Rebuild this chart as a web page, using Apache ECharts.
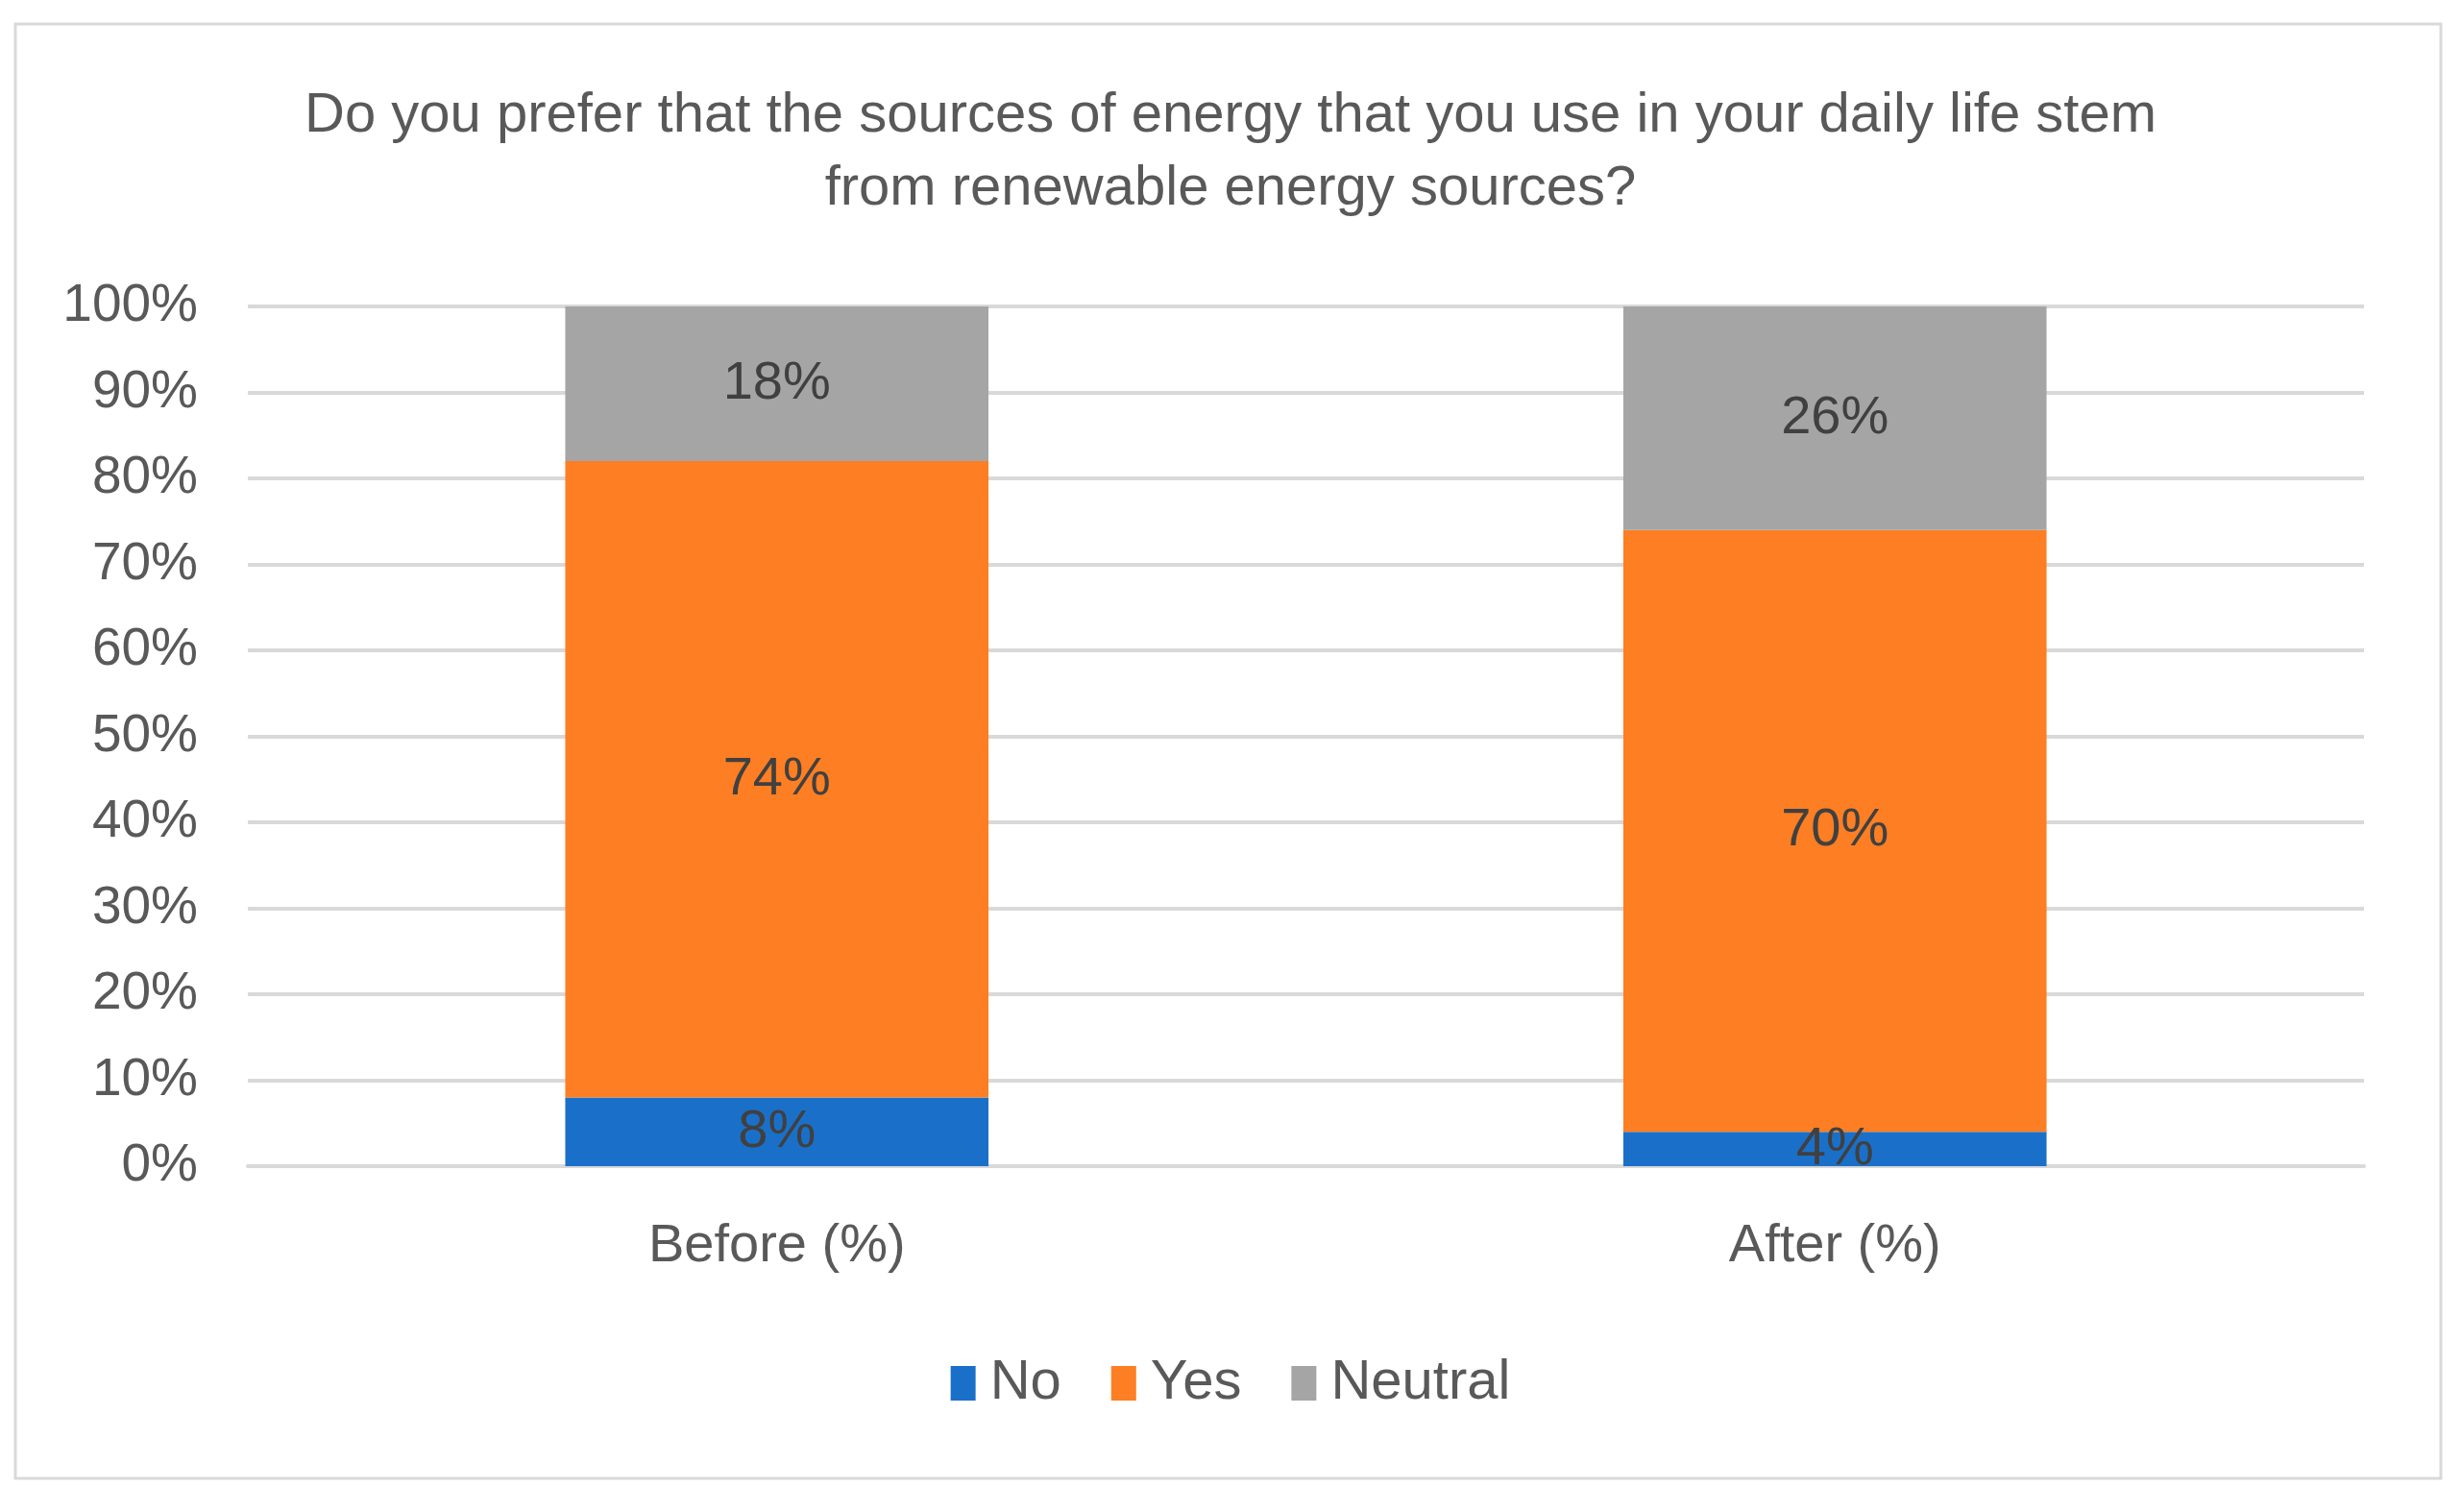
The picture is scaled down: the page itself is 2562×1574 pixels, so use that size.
<!DOCTYPE html>
<html><head><meta charset="utf-8">
<script src="https://cdn.jsdelivr.net/npm/echarts@6/dist/echarts.min.js"></script>
<style>html,body{margin:0;padding:0;background:#fff}#c{width:2562px;height:1574px}</style>
</head><body><div id="c"></div>
<script>
const categories = ['Before (%)', 'After (%)'];
const noValues = [8, 4];
const yesValues = [74, 70];
const neutralValues = [18, 26];
const seriesNames = ['No', 'Yes', 'Neutral'];
const colors = ['#1a70c8', '#fd7e23', '#a5a5a5'];

const font = 'Liberation Sans';
const chart = echarts.init(document.getElementById('c'));
const lbl = {show: true, position: 'inside', color: '#404040', fontSize: 56, fontFamily: font, formatter: p => p.value + '%'};
function mk(name, data, i) {
  return {name, type: 'bar', stack: 'total', data, barWidth: '40%', itemStyle: {color: colors[i]}, label: lbl, emphasis: {disabled: true}};
}
chart.setOption({
  animation: false,
  backgroundColor: '#fff',
  textStyle: {fontFamily: font},
  graphic: [{type: 'rect', shape: {x: 16, y: 25, width: 2525, height: 1514}, style: {fill: 'none', stroke: '#d9d9d9', lineWidth: 3}, silent: true}],
  title: {
    text: 'Do you prefer that the sources of energy that you use in your daily life stem\nfrom renewable energy sources?',
    left: 'center', top: 78,
    textStyle: {color: '#595959', fontSize: 58, fontWeight: 'normal', fontFamily: font, lineHeight: 76, align: 'center'}
  },
  legend: {
    data: seriesNames, top: 1406, left: 'center', itemWidth: 26, itemHeight: 36, itemGap: 52,
    icon: 'rect',
    textStyle: {color: '#595959', fontSize: 58, fontFamily: font, padding: [0, 0, 0, 10]}
  },
  grid: {left: 258, right: 101, top: 319, bottom: 360, containLabel: false},
  xAxis: {
    type: 'category', data: categories,
    axisLine: {lineStyle: {color: '#d9d9d9', width: 4}},
    axisTick: {show: false},
    axisLabel: {color: '#595959', fontSize: 56, fontFamily: font, margin: 56}
  },
  yAxis: {
    type: 'value', min: 0, max: 100, interval: 10,
    axisLine: {show: false}, axisTick: {show: false},
    splitLine: {lineStyle: {color: '#d9d9d9', width: 4}},
    axisLabel: {color: '#595959', fontSize: 55, fontFamily: font, margin: 52, formatter: v => v + '%'}
  },
  series: [mk('No', noValues, 0), mk('Yes', yesValues, 1), mk('Neutral', neutralValues, 2)]
});
</script></body></html>
